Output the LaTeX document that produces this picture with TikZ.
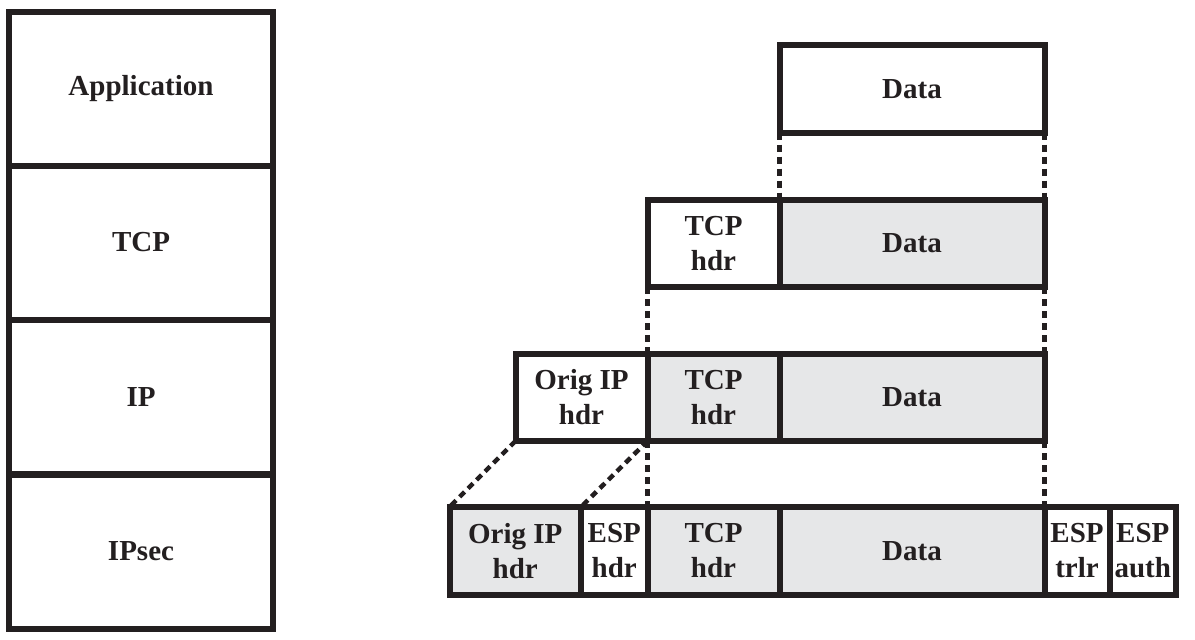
\documentclass[tikz,border=0pt]{standalone}
\usepackage{fontspec}
\setmainfont{Liberation Serif}
\definecolor{ink}{HTML}{231F20}
\definecolor{shade}{HTML}{E6E7E8}
\tikzset{
  cell/.style={draw=ink, line width=6pt, outer sep=0pt, inner sep=0pt,
    anchor=north west, align=center, text=ink,
    font=\bfseries\fontsize{29}{35}\selectfont},
  shaded/.style={fill=shade},
  layer/.style={cell, minimum width=264pt, minimum height=154pt},
  rowcell/.style={cell, minimum height=87.5pt},
  guide/.style={draw=ink, line width=4.5pt, dash pattern=on 7pt off 5pt},
}
\begin{document}
\begin{tikzpicture}[x=1pt,y=-1pt]
\useasboundingbox (0,0) rectangle (1195,640);
% protocol stack
\node[layer] (app) at (9,11.5) {Application};
\node[layer] (tcp) at (9,165.5) {TCP};
\node[layer] (ip) at (9,320) {IP};
\node[layer] (ipsec) at (9,474.5) {IPsec};
% row 1
\node[rowcell, minimum width=265pt] (d1) at (779.5,45) {Data};
% row 2
\node[rowcell, minimum width=132pt] (t2) at (647.5,199.5) {TCP\\hdr};
\node[rowcell, shaded, minimum width=265pt] (d2) at (779.5,199.5) {Data};
% row 3
\node[rowcell, minimum width=132pt] (o3) at (515.5,353.5) {Orig IP\\hdr};
\node[rowcell, shaded, minimum width=132pt] (t3) at (647.5,353.5) {TCP\\hdr};
\node[rowcell, shaded, minimum width=265pt] (d3) at (779.5,353.5) {Data};
% row 4
\node[rowcell, shaded, minimum width=131.5pt] (o4) at (449.5,507) {Orig IP\\hdr};
\node[rowcell, minimum width=66.5pt] (e4) at (581,507) {ESP\\hdr};
\node[rowcell, shaded, minimum width=132pt] (t4) at (647.5,507) {TCP\\hdr};
\node[rowcell, shaded, minimum width=265pt] (d4) at (779.5,507) {Data};
\node[rowcell, minimum width=65pt] (tr4) at (1044.5,507) {ESP\\trlr};
\node[rowcell, minimum width=66.5pt] (au4) at (1109.5,507) {ESP\\auth};
% guides
\draw[guide] (d1.south west) -- (d2.north west);
\draw[guide] (d1.south east) -- (d2.north east);
\draw[guide] (t2.south west) -- (t3.north west);
\draw[guide] (d2.south east) -- (d3.north east);
\draw[guide] (o3.south west) -- (o4.north west);
\draw[guide] (o3.south east) -- (e4.north west);
\draw[guide] (t3.south west) -- (t4.north west);
\draw[guide] (d3.south east) -- (d4.north east);
\end{tikzpicture}
\end{document}
